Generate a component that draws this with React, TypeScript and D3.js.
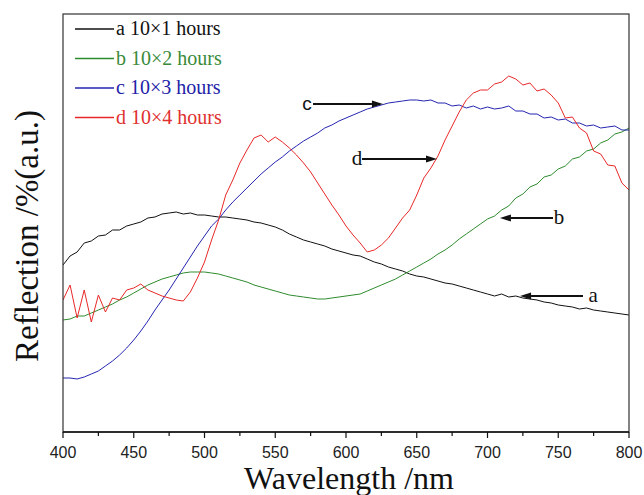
import React from "react";
import * as d3 from "d3";

const wavelengths: number[] = d3.range(400, 801, 5);

// a 10×1 hours (black)
const seriesA: number[] = [
  16.7, 17.6, 18.0, 18.9, 19.1, 19.6, 19.7, 20.2, 20.2, 20.6,
  20.8, 21.0, 21.4, 21.5, 21.8, 21.9, 22.0, 21.8, 21.9, 21.7,
  21.7, 21.6, 21.5, 21.5, 21.4, 21.3, 21.2, 21.0, 20.9, 20.7,
  20.5, 20.2, 19.8, 19.5, 19.2, 19.0, 18.8, 18.6, 18.3, 18.1,
  17.9, 17.7, 17.6, 17.3, 17.0, 16.8, 16.5, 16.3, 16.1, 15.8,
  15.6, 15.5, 15.3, 15.1, 14.9, 14.8, 14.6, 14.4, 14.2, 14.0,
  13.8, 13.6, 13.8, 13.5, 13.6, 13.4, 13.3, 13.2, 13.0, 12.9,
  12.7, 12.6, 12.5, 12.3, 12.4, 12.2, 12.1, 12.0, 11.9, 11.8,
  11.7,
];

// b 10×2 hours (green)
const seriesB: number[] = [
  11.2, 11.3, 11.6, 11.6, 11.9, 12.2, 12.5, 12.8, 13.2, 13.5,
  13.9, 14.3, 14.7, 15.0, 15.3, 15.5, 15.7, 15.9, 16.0, 16.0,
  16.0, 15.9, 15.8, 15.6, 15.4, 15.2, 15.0, 14.7, 14.5, 14.3,
  14.1, 13.9, 13.7, 13.6, 13.5, 13.4, 13.3, 13.3, 13.4, 13.5,
  13.6, 13.7, 13.8, 14.1, 14.4, 14.7, 15.0, 15.3, 15.7, 16.1,
  16.5, 16.9, 17.3, 17.8, 18.2, 18.7, 19.3, 19.8, 20.3, 20.8,
  21.3, 21.6, 22.2, 22.6, 23.4, 23.8, 24.5, 24.8, 25.5, 25.7,
  26.3, 26.6, 27.3, 27.5, 28.1, 28.3, 28.9, 29.2, 29.8, 30.0,
  30.4,
];

// c 10×3 hours (blue)
const seriesC: number[] = [
  5.4, 5.4, 5.3, 5.5, 5.8, 6.1, 6.6, 7.1, 7.7, 8.4,
  9.2, 10.1, 11.1, 12.2, 13.2, 14.2, 15.3, 16.4, 17.5, 18.6,
  19.6, 20.6, 21.3, 22.2, 23.0, 23.7, 24.4, 25.1, 25.8, 26.4,
  27.0, 27.5, 28.1, 28.6, 29.1, 29.5, 29.9, 30.4, 30.7, 31.1,
  31.4, 31.7, 32.0, 32.3, 32.5, 32.7, 32.9, 33.0, 33.1, 33.2,
  33.2, 33.1, 33.2, 32.9, 32.9, 32.6, 32.7, 32.4, 32.6, 32.3,
  32.5, 32.3, 32.4, 32.6, 32.1, 32.1, 31.8, 31.8, 31.4, 31.5,
  31.2, 31.3, 30.9, 30.9, 30.6, 30.7, 30.4, 30.5, 30.6, 30.2,
  30.2,
];

// d 10×4 hours (red)
const seriesD: number[] = [
  13.2, 14.7, 11.4, 14.2, 11.0, 13.7, 12.0, 13.4, 13.2, 14.2,
  14.4, 14.8, 14.2, 13.9, 13.6, 13.4, 13.2, 13.1, 14.0, 15.4,
  17.0, 19.2, 21.2, 23.7, 25.2, 26.9, 28.2, 29.4, 29.7, 29.0,
  29.5, 29.0, 28.4, 27.7, 26.9, 26.0, 24.9, 23.8, 22.7, 21.7,
  20.6, 19.7, 18.9, 18.0, 18.2, 18.7, 19.4, 20.4, 21.4, 22.2,
  23.7, 25.4, 26.4, 27.6, 29.2, 30.6, 32.0, 33.2, 33.9, 34.2,
  34.2, 34.8, 35.0, 35.6, 35.3, 34.7, 34.9, 34.1, 34.3, 33.7,
  32.9, 31.4, 31.5, 30.4, 29.9, 28.1, 27.8, 26.7, 26.6, 24.9,
  24.2,
];

const seriesLabels = ["a 10×1 hours", "b 10×2 hours", "c 10×3 hours", "d 10×4 hours"];
const seriesColors = ["#111111", "#2e8b2e", "#2525b0", "#e82828"];
const textColors = ["#111111", "#3a8a3a", "#2222a8", "#e03030"];
const xTicks = [400, 450, 500, 550, 600, 650, 700, 750, 800];
const xMinorTicks = [425, 475, 525, 575, 625, 675, 725, 775];

// annotations: label, label position (nm), line start (nm), arrow tip (nm), level
const annoLabels = ["c", "d", "b", "a"];
const annoLabelX = [572.4, 607.8, 750.5, 774.6];
const annoLineX = [576.7, 611.3, 746.3, 767.5];
const annoTipX = [626.1, 664.3, 708.8, 723.0];
const annoY = [32.8, 27.3, 21.4, 13.6];

const SERIF = "'Liberation Serif', 'Times New Roman', serif";
const SANS = "'Liberation Sans', Arial, sans-serif";
const annoFonts = [SANS, SERIF, SERIF, SERIF];

const W = 644;
const H = 495;
const left = 63;
const right = 629;
const top = 14;
const bottom = 432;

export default function App() {
  const x = d3.scaleLinear().domain([400, 800]).range([left, right]);
  const y = d3.scaleLinear().domain([0, 41.8]).range([bottom, top]);
  const allSeries = [seriesA, seriesB, seriesC, seriesD];
  const line = d3
    .line<number>()
    .x((_, i) => x(wavelengths[i]))
    .y((d) => y(d));

  return (
    <svg
      width={W}
      height={H}
      style={{ position: "absolute", left: 0, top: 0, background: "#fff" }}
    >
      <rect x={0} y={0} width={W} height={H} fill="#fff" />
      <defs>
        <clipPath id="clip">
          <rect x={left} y={top} width={right - left} height={bottom - top} />
        </clipPath>
      </defs>
      <g clipPath="url(#clip)">
        {allSeries.map((s, i) => (
          <path
            key={i}
            d={line(s) || ""}
            fill="none"
            stroke={seriesColors[i]}
            strokeWidth={1}
            strokeLinejoin="round"
          />
        ))}
      </g>
      {/* frame */}
      <rect
        x={left}
        y={top}
        width={right - left}
        height={bottom - top}
        fill="none"
        stroke="#333"
        strokeWidth={1.2}
      />
      <line x1={left} x2={right} y1={bottom} y2={bottom} stroke="#111" strokeWidth={1.5} />
      {xTicks.map((t) => (
        <g key={t}>
          <line x1={x(t)} x2={x(t)} y1={bottom} y2={bottom + 6} stroke="#111" strokeWidth={1.2} />
          <text
            x={x(t)}
            y={458}
            textAnchor="middle"
            fontFamily={SANS}
            fontSize={16}
            fill="#222"
          >
            {t}
          </text>
        </g>
      ))}
      {xMinorTicks.map((t) => (
        <line key={t} x1={x(t)} x2={x(t)} y1={bottom} y2={bottom + 4} stroke="#111" strokeWidth={1.2} />
      ))}
      <text
        x={349}
        y={489}
        textAnchor="middle"
        fontFamily={SERIF}
        fontSize={32}
        fill="#111"
      >
        Wavelength /nm
      </text>
      <text
        transform="translate(38,236) rotate(-90)"
        textAnchor="middle"
        fontFamily={SERIF}
        fontSize={33}
        fill="#111"
      >
        Reflection /%(a.u.)
      </text>
      {/* legend */}
      {seriesLabels.map((lab, i) => {
        const ly = 29 + i * 29.5;
        return (
          <g key={lab}>
            <line x1={75} x2={114} y1={ly} y2={ly} stroke={seriesColors[i]} strokeWidth={1.5} />
            <text x={116} y={ly + 6} fontFamily={SERIF} fontSize={20} fill={textColors[i]}>
              {lab}
            </text>
          </g>
        );
      })}
      {/* annotations */}
      {annoLabels.map((lab, i) => {
        const yy = y(annoY[i]);
        const tip = x(annoTipX[i]);
        const start = x(annoLineX[i]);
        const dir = tip > start ? 1 : -1;
        const headLen = 11;
        const base = tip - dir * headLen;
        return (
          <g key={lab}>
            <line x1={start} x2={base} y1={yy} y2={yy} stroke="#111" strokeWidth={2} />
            <path
              d={`M${tip},${yy} L${base},${yy - 3.5} L${base},${yy + 3.5} Z`}
              fill="#111"
            />
            <text
              x={x(annoLabelX[i])}
              y={yy + 6}
              textAnchor="middle"
              fontFamily={annoFonts[i]}
              fontSize={i === 0 ? 19 : 21}
              fill="#111"
            >
              {lab}
            </text>
          </g>
        );
      })}
    </svg>
  );
}
